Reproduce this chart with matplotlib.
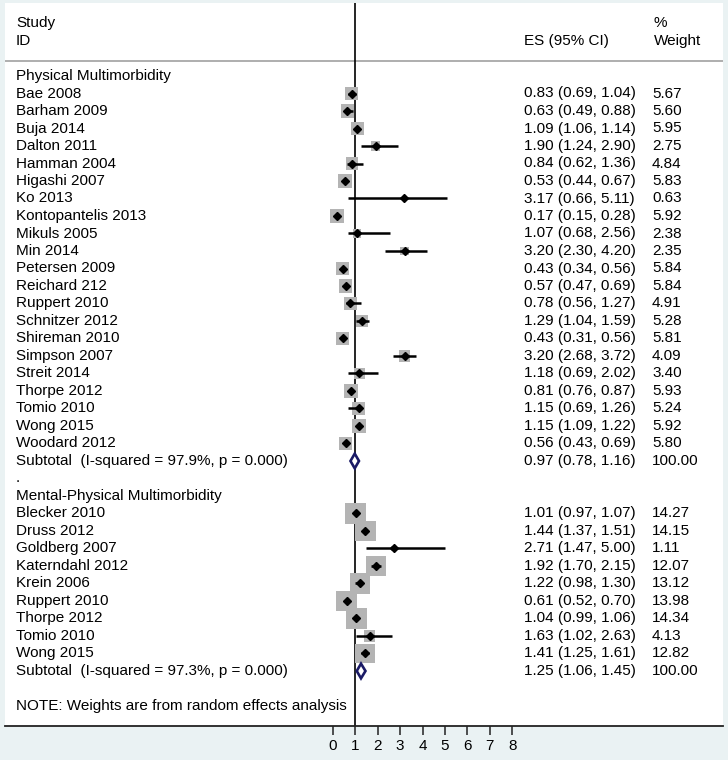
import matplotlib
matplotlib.use("Agg")
import matplotlib.pyplot as plt
import matplotlib.transforms as mtransforms
import numpy as np

plt.rcParams['font.family'] = ['Liberation Sans', 'DejaVu Sans']

# ---------------- data ----------------
group1_title = "Physical Multimorbidity"
studies1 = ["Bae 2008", "Barham 2009", "Buja 2014", "Dalton 2011", "Hamman 2004",
            "Higashi 2007", "Ko 2013", "Kontopantelis 2013", "Mikuls 2005", "Min 2014",
            "Petersen 2009", "Reichard 212", "Ruppert 2010", "Schnitzer 2012",
            "Shireman 2010", "Simpson 2007", "Streit 2014", "Thorpe 2012", "Tomio 2010",
            "Wong 2015", "Woodard 2012"]
es1 = [0.83, 0.63, 1.09, 1.90, 0.84, 0.53, 3.17, 0.17, 1.07, 3.20, 0.43, 0.57, 0.78,
       1.29, 0.43, 3.20, 1.18, 0.81, 1.15, 1.15, 0.56]
lo1 = [0.69, 0.49, 1.06, 1.24, 0.62, 0.44, 0.66, 0.15, 0.68, 2.30, 0.34, 0.47, 0.56,
       1.04, 0.31, 2.68, 0.69, 0.76, 0.69, 1.09, 0.43]
hi1 = [1.04, 0.88, 1.14, 2.90, 1.36, 0.67, 5.11, 0.28, 2.56, 4.20, 0.56, 0.69, 1.27,
       1.59, 0.56, 3.72, 2.02, 0.87, 1.26, 1.22, 0.69]
w1 = [5.67, 5.60, 5.95, 2.75, 4.84, 5.83, 0.63, 5.92, 2.38, 2.35, 5.84, 5.84, 4.91,
      5.28, 5.81, 4.09, 3.40, 5.93, 5.24, 5.92, 5.80]
sub1 = (0.97, 0.78, 1.16)
isq1 = "97.9%"

group2_title = "Mental-Physical Multimorbidity"
studies2 = ["Blecker 2010", "Druss 2012", "Goldberg 2007", "Katerndahl 2012",
            "Krein 2006", "Ruppert 2010", "Thorpe 2012", "Tomio 2010", "Wong 2015"]
es2 = [1.01, 1.44, 2.71, 1.92, 1.22, 0.61, 1.04, 1.63, 1.41]
lo2 = [0.97, 1.37, 1.47, 1.70, 0.98, 0.52, 0.99, 1.02, 1.25]
hi2 = [1.07, 1.51, 5.00, 2.15, 1.30, 0.70, 1.06, 2.63, 1.61]
w2 = [14.27, 14.15, 1.11, 12.07, 13.12, 13.98, 14.34, 4.13, 12.82]
sub2 = (1.25, 1.06, 1.45)
isq2 = "97.3%"

xticks = [0, 1, 2, 3, 4, 5, 6, 7, 8]
note = "NOTE: Weights are from random effects analysis"

# ---------------- layout ----------------
W, H = 728, 760
BG = '#eaf2f3'
BOX = '#b4b4b4'
NAVY = '#1a1a66'
FS = 11

ROW0 = 76.0      # pixel y of first row
ROWH = 17.5      # pixel per row
PX0 = 333.0      # pixel x of value 0
PXU = 22.4       # pixel per unit
L, R, T, B = 5, 723, 3, 726

fig = plt.figure(figsize=(W / 100, H / 100), dpi=100, facecolor=BG)
ax = fig.add_axes([L / W, (H - B) / H, (R - L) / W, (B - T) / H])
ax.set_facecolor('white')
ax.set_xlim((L - PX0) / PXU, (R - PX0) / PXU)
ax.set_ylim((B - ROW0) / ROWH, (T - ROW0) / ROWH)

for s in ['left', 'right', 'top']:
    ax.spines[s].set_visible(False)
ax.spines['bottom'].set_linewidth(1.3)
ax.spines['bottom'].set_color('#222222')
ax.set_yticks([])
ax.set_xticks(xticks)
ax.set_xticklabels([str(t) for t in xticks])
ax.tick_params(axis='x', direction='out', length=6.5, width=1.1, pad=3,
               labelsize=FS, color='#222222')

tr = mtransforms.blended_transform_factory(ax.transAxes, ax.transData)
def fx(px):
    return (px - L) / (R - L)

XL, XES, XW, XWH = fx(16), fx(524), fx(652), fx(654)

# header
hy1 = (22.7 - ROW0) / ROWH
hy2 = (40.7 - ROW0) / ROWH
ax.text(XL, hy1, "Study", transform=tr, va='center', fontsize=FS)
ax.text(XL, hy2, "ID", transform=tr, va='center', fontsize=FS)
ax.text(XES, hy2, "ES (95% CI)", transform=tr, va='center', fontsize=FS)
ax.text(XWH, hy1, "%", transform=tr, va='center', fontsize=FS)
ax.text(XWH, hy2, "Weight", transform=tr, va='center', fontsize=FS)
ax.axhline((61 - ROW0) / ROWH, color='#a8a8a8', lw=1.3, zorder=1)

ax.axvline(1, color='black', lw=1.2, zorder=1)

def box_size(w):
    return 16.0 * w  # scatter area, side ~ sqrt(weight)

def draw_group(start, title, names, es, lo, hi, w, sub, isq):
    ax.text(XL, start, title, transform=tr, va='center', fontsize=FS)
    ys = np.arange(start + 1, start + 1 + len(names))
    ax.scatter(es, ys, s=[box_size(v) for v in w], marker='s', color=BOX,
               linewidths=0, zorder=2)
    ax.hlines(ys, lo, hi, color='black', lw=1.8, zorder=3)
    ax.plot(es, ys, linestyle='none', marker='D', markersize=4.2,
            color='black', zorder=4)
    for y, n, e, l, h, ww in zip(ys, names, es, lo, hi, w):
        ax.text(XL, y, n, transform=tr, va='center', fontsize=FS)
        ax.text(XES, y, f"{e:.2f} ({l:.2f}, {h:.2f})", transform=tr,
                va='center', fontsize=FS)
        ax.text(XW, y, f"{ww:.2f}", transform=tr, va='center', fontsize=FS)
    ysub = start + 1 + len(names)
    e, l, h = sub
    dh = 0.42
    ax.fill([l, e, h, e, l], [ysub, ysub - dh, ysub, ysub + dh, ysub],
            facecolor='white', edgecolor=NAVY, lw=1.9, zorder=4)
    ax.text(XL, ysub, f"Subtotal  (I-squared = {isq}, p = 0.000)", transform=tr,
            va='center', fontsize=FS)
    ax.text(XES, ysub, f"{e:.2f} ({l:.2f}, {h:.2f})", transform=tr,
            va='center', fontsize=FS)
    ax.text(XW, ysub, "100.00", transform=tr, va='center', fontsize=FS)
    return ysub

end1 = draw_group(0, group1_title, studies1, es1, lo1, hi1, w1, sub1, isq1)
ax.text(XL, end1 + 1, ".", transform=tr, va='center', fontsize=FS)
end2 = draw_group(end1 + 2, group2_title, studies2, es2, lo2, hi2, w2, sub2, isq2)
ax.text(XL, end2 + 2, note, transform=tr, va='center', fontsize=FS)

fig.savefig("out.png", dpi=100, facecolor=BG)
